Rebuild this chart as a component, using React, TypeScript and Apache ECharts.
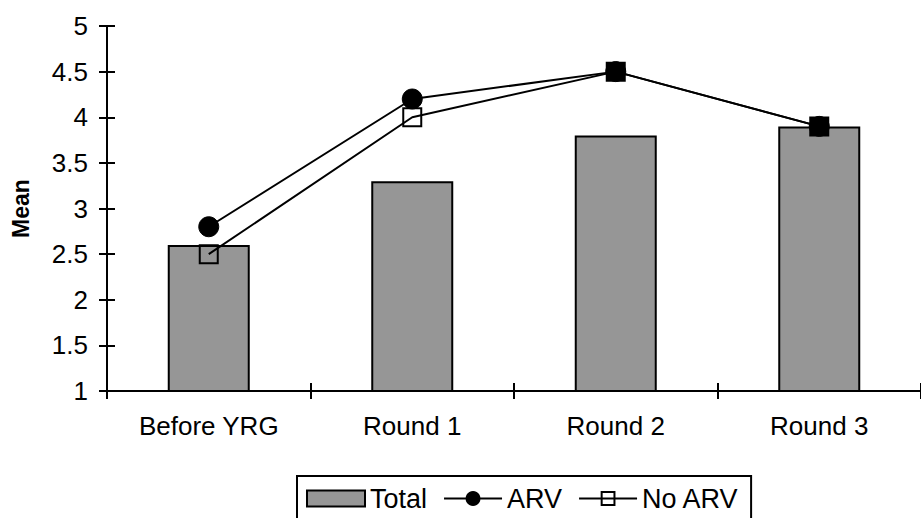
import React, { useEffect, useRef } from "react";
import * as echarts from "echarts";

const categories = ["Before YRG", "Round 1", "Round 2", "Round 3"];
const totalValues = [2.6, 3.3, 3.8, 3.9];
const arvValues = [2.8, 4.2, 4.5, 3.9];
const noArvValues = [2.5, 4.0, 4.5, 3.9];

const FONT = "'Liberation Sans', Arial, sans-serif";
const FS = 26;

export default function App() {
  const ref = useRef<HTMLDivElement>(null);

  useEffect(() => {
    if (!ref.current) return;
    const chart = echarts.init(ref.current, undefined, { renderer: "svg" });
    const axisBase = {
      min: 1,
      max: 5,
      interval: 0.5,
      splitLine: { show: false },
    };
    chart.setOption({
      animation: false,
      backgroundColor: "#ffffff",
      textStyle: { fontFamily: FONT, color: "#000" },
      grid: { left: 107, right: -7, top: 26, bottom: 127, containLabel: false },
      legend: {
        left: 297,
        top: 476,
        padding: [9, 12, 30, 9],
        borderColor: "#000",
        borderWidth: 2,
        itemWidth: 58,
        itemHeight: 16,
        itemGap: 16,
        textStyle: { fontFamily: FONT, fontSize: 27, color: "#000" },
        data: [
          { name: "Total", icon: "rect", itemStyle: { borderWidth: 2 } },
          { name: "ARV" },
          { name: "No ARV" },
        ],
      },
      xAxis: [
        {
          type: "category",
          data: categories,
          boundaryGap: true,
          axisLine: { lineStyle: { color: "#000", width: 2 } },
          axisTick: { show: true, length: 8, lineStyle: { color: "#000", width: 2 } },
          axisLabel: { fontFamily: FONT, fontSize: FS, color: "#000", margin: 22 },
        },
        {
          type: "category",
          data: categories,
          position: "bottom",
          boundaryGap: true,
          axisLine: { show: false },
          axisTick: { show: true, inside: true, length: 8, lineStyle: { color: "#000", width: 2 } },
          axisLabel: { show: false },
        },
      ],
      yAxis: [
        {
          type: "value",
          ...axisBase,
          position: "left",
          name: "Mean",
          nameLocation: "middle",
          nameRotate: 90,
          nameGap: 75,
          nameTextStyle: { fontFamily: FONT, fontSize: 23, fontWeight: "bold", color: "#000" },
          axisLine: { show: true, lineStyle: { color: "#000", width: 2 } },
          axisTick: { show: true, length: 8, lineStyle: { color: "#000", width: 2 } },
          axisLabel: { fontFamily: FONT, fontSize: FS, color: "#000", margin: 19 },
        },
        {
          type: "value",
          ...axisBase,
          position: "left",
          offset: 0,
          axisLine: { show: false },
          axisTick: { show: true, inside: true, length: 8, lineStyle: { color: "#000", width: 2 } },
          axisLabel: { show: false },
        },
      ],
      series: [
        {
          name: "Total",
          type: "bar",
          data: totalValues,
          barWidth: 82,
          itemStyle: { color: "#969696", borderColor: "#000", borderWidth: 2 },
          z: 2,
        },
        {
          name: "ARV",
          type: "line",
          data: arvValues,
          symbol: "circle",
          symbolSize: 20,
          lineStyle: { color: "#000", width: 2 },
          itemStyle: { color: "#000", borderColor: "#000", borderWidth: 1 },
          z: 3,
        },
        {
          name: "No ARV",
          type: "line",
          data: noArvValues.map((v, i) =>
            arvValues[i] === v
              ? { value: v, itemStyle: { color: "#000" } }
              : v
          ),
          symbol: "rect",
          symbolSize: 18,
          lineStyle: { color: "#000", width: 2 },
          itemStyle: { color: "rgba(0,0,0,0)", borderColor: "#000", borderWidth: 2 },
          z: 4,
        },
      ],
    });
    return () => chart.dispose();
  }, []);

  return (
    <div
      ref={ref}
      style={{ position: "fixed", left: 0, top: 0, width: 921, height: 518 }}
    />
  );
}
